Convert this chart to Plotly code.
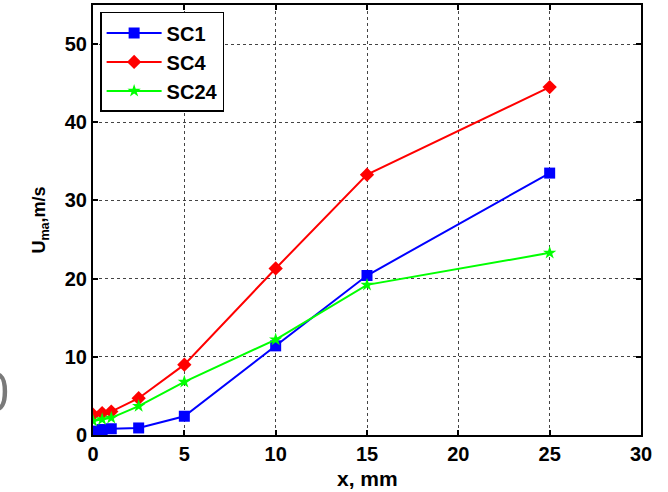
import plotly.graph_objects as go

x_mm = [0, 0.5, 1, 2.5, 5, 10, 15, 25]
sc1 = [0.5, 0.7, 0.8, 0.9, 2.4, 11.4, 20.4, 33.5]
sc4 = [2.6, 2.8, 3.0, 4.7, 9.0, 21.3, 33.3, 44.5]
sc24 = [1.8, 2.0, 2.2, 3.7, 6.8, 12.2, 19.2, 23.3]

x_ticks = [0, 5, 10, 15, 20, 25, 30]
y_ticks = [0, 10, 20, 30, 40, 50]

fig = go.Figure()
fig.add_trace(go.Scatter(x=x_mm, y=sc1, mode="lines+markers", name="SC1",
                         line=dict(color="#0000ff", width=2),
                         marker=dict(symbol="square", size=11, color="#0000ff")))
fig.add_trace(go.Scatter(x=x_mm, y=sc4, mode="lines+markers", name="SC4",
                         line=dict(color="#ff0000", width=2),
                         marker=dict(symbol="diamond", size=11, color="#ff0000")))
fig.add_trace(go.Scatter(x=x_mm, y=sc24, mode="lines+markers", name="SC24",
                         line=dict(color="#00ff00", width=2),
                         marker=dict(symbol="star", size=10, color="#00ff00")))

font_fam = "Arial, Liberation Sans"
axis_common = dict(
    showline=True, linecolor="black", linewidth=2, mirror="ticks",
    ticks="inside", ticklen=5, tickwidth=2, tickcolor="black",
    showgrid=True, gridcolor="#444444", gridwidth=1, griddash="dot",
    zeroline=False,
    tickfont=dict(family=font_fam, size=20, color="black", weight="bold"),
)

fig.update_xaxes(range=[0, 30], tickvals=x_ticks, **axis_common)
fig.update_yaxes(range=[0, 55], tickvals=y_ticks,
                 title=dict(text="<b>U<sub>ma</sub>,m/s</b>", font=dict(family=font_fam, size=18, color="black"), standoff=14),
                 **axis_common)

# x-axis title placed just under the tick labels, as in the reference
fig.add_annotation(xref="paper", yref="paper", x=0.5, y=-0.102,
                   text="<b>x, mm</b>", showarrow=False, xanchor="center", yanchor="middle",
                   font=dict(family=font_fam, size=21, color="black"))

fig.add_annotation(xref="paper", yref="paper", x=-0.179, y=0.105,
                   text="0", showarrow=False, xanchor="center", yanchor="middle",
                   font=dict(family="Open Sans", size=54, color="#7a7a7a"))

fig.update_layout(
    width=668, height=492,
    margin=dict(l=93, r=27, t=5, b=57, autoexpand=False),
    plot_bgcolor="white", paper_bgcolor="white",
    showlegend=True,
    legend=dict(x=0.013, y=0.984, xanchor="left", yanchor="top",
                bgcolor="white", bordercolor="black", borderwidth=1.5,
                font=dict(family=font_fam, size=20, color="black", weight="bold"),
                tracegroupgap=0, itemwidth=55),
)

fig.write_html("out.html", config={"displayModeBar": False},
               post_script="document.body.style.margin='0';")
